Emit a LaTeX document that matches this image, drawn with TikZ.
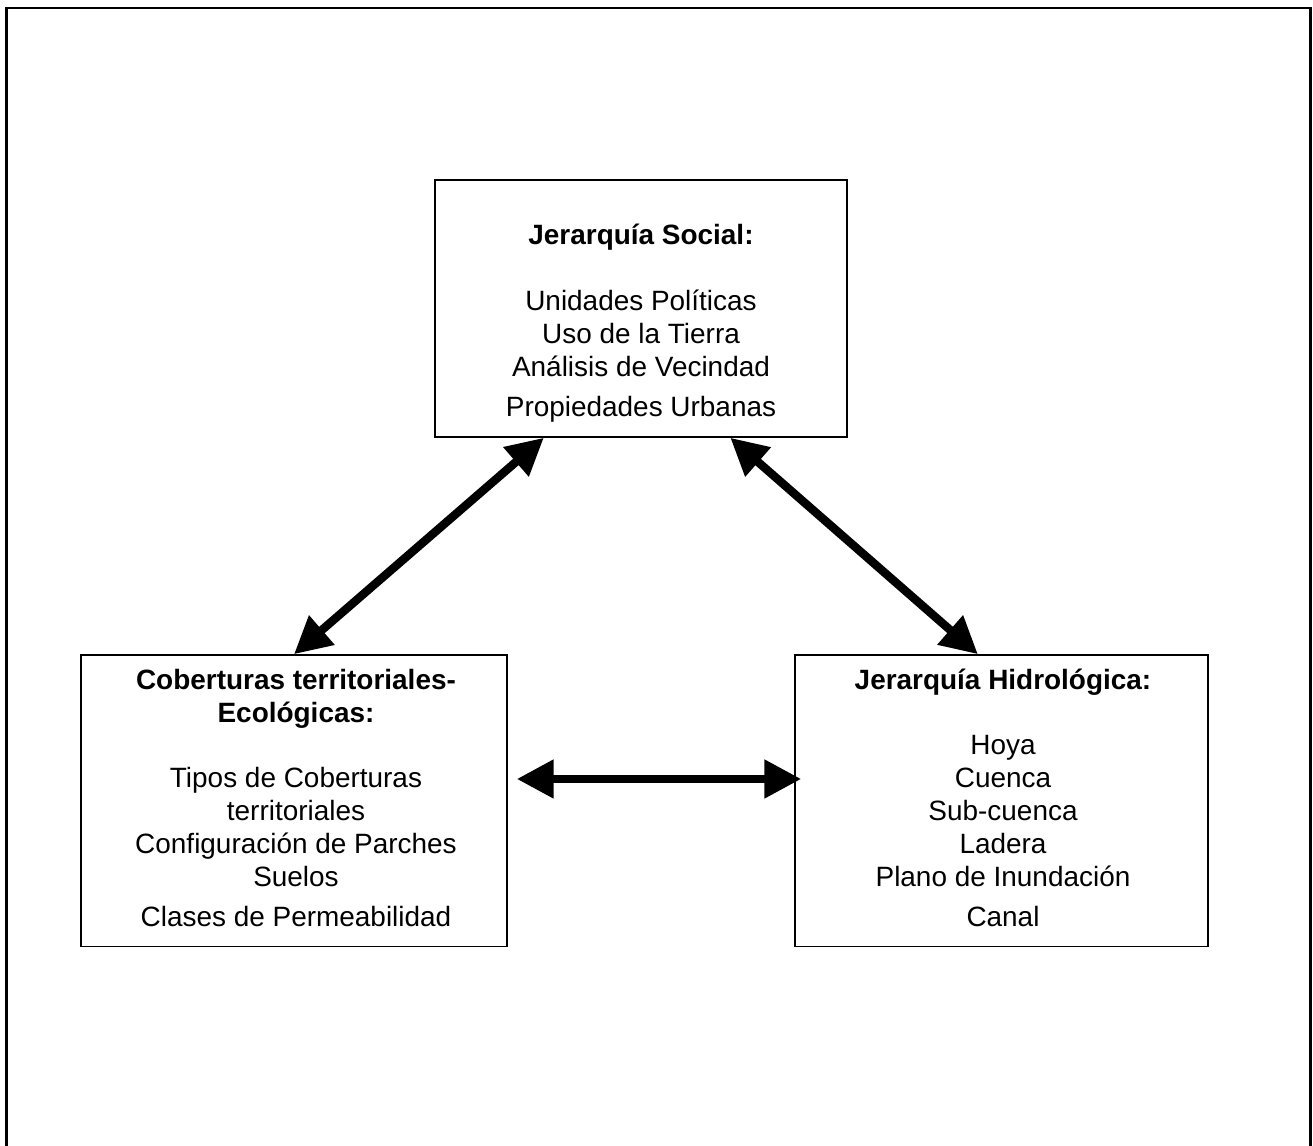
\documentclass[tikz,border=0pt]{standalone}
\usepackage{fontspec}
\setmainfont{Liberation Sans}
\usetikzlibrary{arrows.meta,calc}

\tikzset{
  caja/.style={draw, line width=0.9pt, inner sep=0pt},
  texto/.style={align=center, inner sep=0pt, font=\fontsize{15.9}{18.7}\selectfont},
  flecha/.style={line width=4.8pt, {Triangle[length=21pt,width=21pt]}-{Triangle[length=21pt,width=21pt]}}
}

\begin{document}
\begin{tikzpicture}
     \useasboundingbox (0,0) rectangle (26.26,22.92);
     % marco exterior
     \draw[line width=1.3pt] (0.13,-0.3) -- (0.13,22.76) -- (26.21,22.76) -- (26.21,-0.3);
     % cajas
     \node[caja, minimum width=8.24cm, minimum height=5.14cm] (social) at (12.82,16.75) {};
     \node[caja, minimum width=8.52cm, minimum height=5.83cm] (cob) at (5.88,6.905) {};
     \node[caja, minimum width=8.26cm, minimum height=5.83cm] (hidro) at (20.03,6.905) {};
     % textos (base = ultima linea)
     \node[texto, anchor=base] (socialtxt) at ([yshift=-4.74cm]social.north)
        {\textbf{Jerarquía Social:}\\[18.7pt]
         Unidades Políticas\\Uso de la Tierra\\Análisis de Vecindad\\[4pt]
         Propiedades Urbanas};
     \node[texto, anchor=base] (cobtxt) at ([xshift=0.04cm,yshift=-5.44cm]cob.north)
        {\textbf{Coberturas territoriales-}\\\textbf{Ecológicas:}\\[18.7pt]
         Tipos de Coberturas\\territoriales\\Configuración de Parches\\Suelos\\[4pt]
         Clases de Permeabilidad};
     \node[texto, anchor=base] (hidrotxt) at ([xshift=0.03cm,yshift=-5.44cm]hidro.north)
        {\textbf{Jerarquía Hidrológica:}\\[18.7pt]
         Hoya\\Cuenca\\Sub-cuenca\\Ladera\\Plano de Inundación\\[4pt]
         Canal};
     % flechas
     \draw[flecha] ($(social.south west)!0.265!(social.south east)$) -- (cob.north);
     \draw[flecha] ($(social.south west)!0.716!(social.south east)$) -- ($(hidro.north west)!0.443!(hidro.north east)$);
     \draw[flecha] ([xshift=0.18cm,yshift=0.435cm]cob.east) -- ([xshift=0.14cm,yshift=0.435cm]hidro.west);
\end{tikzpicture}
\end{document}
